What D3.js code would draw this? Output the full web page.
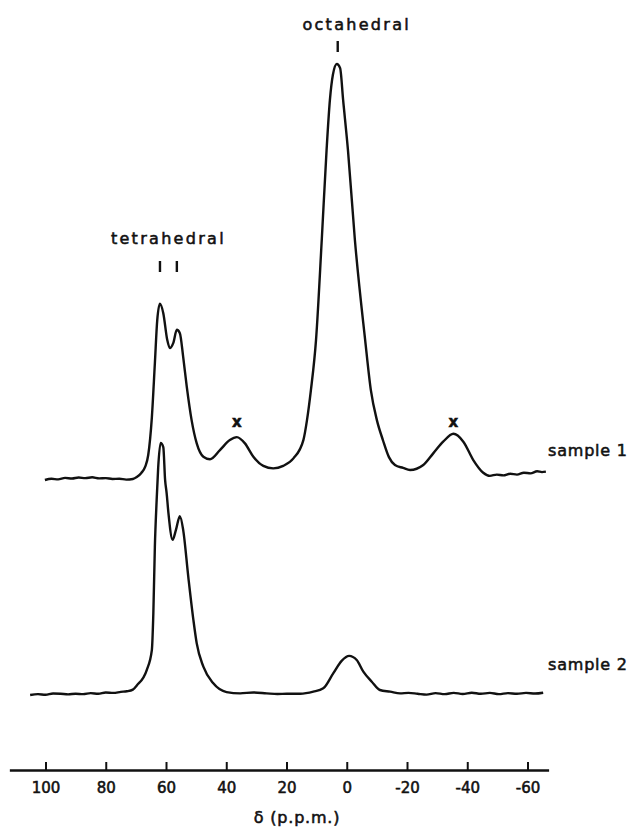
<!DOCTYPE html>
<html>
<head>
<meta charset="utf-8">
<script src="https://cdn.jsdelivr.net/npm/d3@7"></script>
<style>
  body { margin: 0; background: #fff; }
  svg { display: block; }
  text { font-family: "DejaVu Sans", sans-serif; fill: #111; stroke: #111; stroke-width: 0.55px; }
</style>
</head>
<body>
<script>
// chemical shift (ppm) and intensity
var sample1Ppm = [100.2, 98.0, 95.8, 93.5, 91.2, 89.0, 86.8, 84.5, 82.2, 80.0, 77.8, 75.5, 73.2, 71.0, 69.7, 68.2,
  66.9, 65.9, 64.7, 63.7, 62.9, 62.0, 60.9, 59.6, 58.7, 57.6, 56.4, 55.4, 54.3, 53.1, 51.5, 49.8, 47.6,
  45.4, 42.1, 38.8, 36.5, 33.8, 31.0, 27.7, 24.4, 21.1, 17.7, 14.4, 13.2, 11.9, 10.2, 8.3, 6.7, 5.6,
  4.6, 3.3, 2.2, 1.2, -0.4, -2.7, -6.1, -8.0, -10.0, -12.0, -14.0, -16.0, -18.7, -21.0, -25.4, -28.7,
  -32.0, -35.4, -38.7, -42.0, -45.3, -47.5, -49.8, -52.0, -54.2, -56.5, -58.8, -61.0, -63.2, -64.8, -66.1];
var sample1Int = [0, 0.3, 0.15, 0.5, 0.35, 0.6, 0.45, 0.65, 0.4, 0.45, 0.25, 0.3, 0.1, 0.25, 0.7, 1.7,
  3.2, 6.0, 15.0, 28.0, 38.5, 42.4, 40.1, 33.7, 31.7, 32.9, 36.1, 35.3, 29.6, 22.4, 14.4, 8.8, 5.6,
  5.0, 7.2, 9.6, 10.3, 8.8, 5.6, 3.4, 2.8, 3.4, 5.2, 9.6, 14.4, 21.6, 33.7, 57.7, 79.3, 91.3,
  97.4, 100, 99.0, 91.3, 79.3, 57.7, 33.7, 21.6, 14.4, 9.6, 5.5, 3.6, 2.9, 2.4, 3.6, 6.4,
  9.2, 11.1, 9.2, 4.8, 1.75, 1.0, 1.3, 1.1, 1.5, 1.3, 1.75, 1.6, 2.1, 1.9, 2.0];

var sample2Ppm = [105.1, 102.5, 100.0, 97.5, 95.0, 92.5, 90.0, 87.5, 85.0, 82.5, 80.0, 77.5, 75.0, 73.0, 71.0, 69.7, 66.4,
  64.7, 64.2, 63.7, 63.1, 62.6, 61.8, 60.9, 60.3, 59.8, 59.2, 57.8, 56.7, 55.4, 54.3, 52.6, 50.9, 49.8,
  47.6, 44.3, 39.9, 35.4, 31.0, 26.6, 23.0, 19.9, 15.5, 11.1, 7.8, 4.5, 1.7, -0.8, -3.3, -5.5, -8.3,
  -11.0, -14.4, -17.7, -20.5, -23.5, -26.5, -29.5, -32.5, -35.5, -38.5, -41.5, -44.5, -47.5, -50.5,
  -53.5, -56.5, -59.5, -62.5, -65.2];
var sample2Int = [0, 0.2, 0.05, 0.35, 0.3, 0.15, 0.3, 0.2, 0.45, 0.3, 0.6, 0.5, 0.75, 0.9, 1.3, 2.3, 6.0,
  10.8, 19.7, 35.6, 46.9, 54.6, 60.6, 59.6, 51.7, 48.6, 43.8, 37.3, 39.7, 43.0, 39.7, 28.4, 18.0, 12.4,
  6.8, 2.8, 0.7, 0.4, 0.6, 0.4, 0.25, 0.3, 0.3, 0.8, 1.6, 5.2, 8.2, 9.4, 8.4, 5.6, 3.2,
  1.2, 0.8, 0.4, 0.5, 0.3, 0.1, 0.45, 0.2, 0.5, 0.25, 0.55, 0.3, 0.5, 0.2,
  0.45, 0.3, 0.5, 0.35, 0.55];

var sampleNames = ["sample 1", "sample 2"];
var tickValues = [100, 80, 60, 40, 20, 0, -20, -40, -60];
var tetraPeaks = [62.0, 56.4];
var octaPeak = [3.0];
var sidebands = [36.5, -35.4];

var width = 640, height = 833;

var svg = d3.select("body").append("svg")
    .attr("width", width)
    .attr("height", height);

// the axis line runs a little past 100 and -60
var x = d3.scaleLinear().domain([112, -67]).range([9.35, 548.6]);
var y1 = d3.scaleLinear().domain([0, 100]).range([480, 64]);
var y2 = d3.scaleLinear().domain([0, 100]).range([695, 279]);

var line = function (yScale) {
    return d3.line()
        .x(function (d) { return x(d[0]); })
        .y(function (d) { return yScale(d[1]); })
        .curve(d3.curveMonotoneX);
};

var s1 = d3.zip(sample1Ppm, sample1Int);
var s2 = d3.zip(sample2Ppm, sample2Int);

svg.append("path").datum(s1)
    .attr("d", line(y1))
    .attr("fill", "none").attr("stroke", "#111")
    .attr("stroke-width", 2.4).attr("stroke-linejoin", "round");

svg.append("path").datum(s2)
    .attr("d", line(y2))
    .attr("fill", "none").attr("stroke", "#111")
    .attr("stroke-width", 2.4).attr("stroke-linejoin", "round");

// sample names at the right end of each trace
svg.append("text").attr("x", 548).attr("y", 456)
    .style("font-size", "16px").style("letter-spacing", "0.8px")
    .text(sampleNames[0]);
svg.append("text").attr("x", 548).attr("y", 670)
    .style("font-size", "16px").style("letter-spacing", "0.8px")
    .text(sampleNames[1]);

// peak labels
svg.append("text")
    .attr("x", x(octaPeak[0]) + 19).attr("y", 30)
    .attr("text-anchor", "middle")
    .style("font-size", "16px").style("letter-spacing", "2.3px")
    .text("octahedral");
svg.selectAll(".octa-mark").data(octaPeak).enter().append("line")
    .attr("x1", function (d) { return x(d); }).attr("x2", function (d) { return x(d); })
    .attr("y1", 41).attr("y2", 52)
    .attr("stroke", "#111").attr("stroke-width", 2.4);

svg.append("text")
    .attr("x", d3.mean(tetraPeaks, function (d) { return x(d); })).attr("y", 244)
    .attr("text-anchor", "middle")
    .style("font-size", "16px").style("letter-spacing", "2.3px")
    .text("tetrahedral");
svg.selectAll(".tetra-mark").data(tetraPeaks).enter().append("line")
    .attr("x1", function (d) { return x(d); }).attr("x2", function (d) { return x(d); })
    .attr("y1", 261).attr("y2", 272)
    .attr("stroke", "#111").attr("stroke-width", 2.4);

// spinning side bands
svg.selectAll(".sb").data(sidebands).enter().append("text")
    .attr("x", function (d) { return x(d); }).attr("y", 427)
    .attr("text-anchor", "middle")
    .style("font-size", "15px").style("font-weight", "bold")
    .text("x");

// chemical shift axis, ticks point up
var axis = d3.axisBottom(x)
    .tickValues(tickValues)
    .tickSize(-8)
    .tickSizeOuter(0)
    .tickPadding(12)
    .tickFormat(function (d) { return d3.format("d")(d).replace("−", "-"); });

var ax = svg.append("g").attr("transform", "translate(0,770)").call(axis);
ax.select(".domain").attr("stroke", "#111").attr("stroke-width", 2.4);
ax.selectAll(".tick line").attr("stroke", "#111").attr("stroke-width", 2);
ax.selectAll(".tick text")
    .style("font-family", "DejaVu Sans, sans-serif")
    .style("font-size", "15px")
    .attr("fill", "#111");

svg.append("text")
    .attr("x", x(16.5)).attr("y", 823)
    .attr("text-anchor", "middle")
    .style("font-size", "16px").style("letter-spacing", "0.8px")
    .text("δ (p.p.m.)");
</script>
</body>
</html>
